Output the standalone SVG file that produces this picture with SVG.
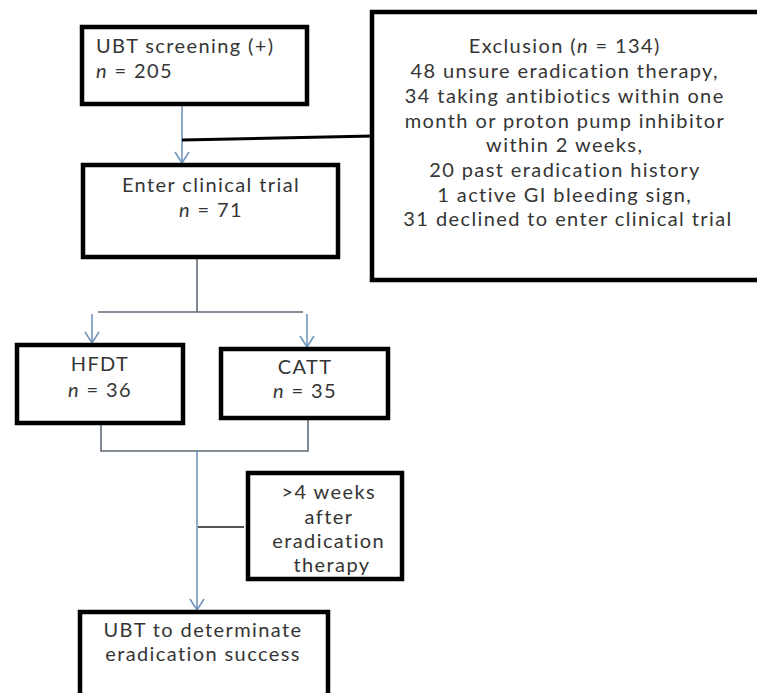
<svg xmlns="http://www.w3.org/2000/svg" width="757" height="693" viewBox="0 0 757 693">
<style>
.box{fill:#fff;stroke:#000;stroke-width:4.5}
.t{font-family:Lato,"Open Sans","Liberation Sans",sans-serif;font-size:20px;letter-spacing:1.4px;fill:#353535}
.c{text-anchor:middle}
.blue{stroke:#7196bb;stroke-width:1.6;fill:none}
.gray{stroke:#5f6b78;stroke-width:1.6;fill:none}
</style>
<rect width="757" height="693" fill="#fff"/>
<g id="connectors">
<line class="blue" x1="182" y1="105" x2="182" y2="163"/>
<polyline points="175,152 182,163 189,152" class="blue"/>
<line x1="182" y1="140" x2="373" y2="136" stroke="#000" stroke-width="3"/>
<line class="gray" x1="197" y1="257" x2="197" y2="312"/>
<line class="gray" x1="98" y1="312" x2="303" y2="312"/>
<line class="blue" x1="92" y1="314" x2="92" y2="343"/>
<polyline points="85,332 92,343 99,332" class="blue"/>
<line class="blue" x1="307" y1="314" x2="307" y2="347"/>
<polyline points="300,336 307,347 314,336" class="blue"/>
<polyline class="gray" points="101,423 101,451 308,451 308,418"/>
<line class="blue" x1="197" y1="451" x2="197" y2="610"/>
<polyline points="190,599 197,610 204,599" class="blue"/>
<line x1="198" y1="527" x2="244" y2="527" stroke="#1a1a1a" stroke-width="1.6"/>
</g>
<g id="ubt-screening">
<rect class="box" x="82" y="27" width="225" height="77"/>
<text class="t" x="96" y="53">UBT screening (+)</text>
<text class="t" x="96" y="78"><tspan font-style="italic">n</tspan> = 205</text>
</g>
<g id="exclusion">
<rect class="box" x="372" y="12" width="390" height="268"/>
<text class="t c" x="568">
<tspan x="568" y="53">Exclusion (<tspan font-style="italic">n</tspan> = 134)</tspan>
<tspan x="568" y="78">48 unsure eradication therapy,</tspan>
<tspan x="568" y="103">34 taking antibiotics within one</tspan>
<tspan x="568" y="128">month or proton pump inhibitor</tspan>
<tspan x="568" y="152">within 2 weeks,</tspan>
<tspan x="568" y="177">20 past eradication history</tspan>
<tspan x="568" y="202">1 active GI bleeding sign,</tspan>
<tspan x="568" y="226">31 declined to enter clinical trial</tspan>
</text>
</g>
<g id="enter-trial">
<rect class="box" x="83" y="165" width="255" height="92"/>
<text class="t c" x="211" y="192">Enter clinical trial</text>
<text class="t c" x="211" y="217"><tspan font-style="italic">n</tspan> = 71</text>
</g>
<g id="hfdt">
<rect class="box" x="17" y="345" width="166" height="78"/>
<text class="t c" x="100" y="371">HFDT</text>
<text class="t c" x="100" y="397"><tspan font-style="italic">n</tspan> = 36</text>
</g>
<g id="catt">
<rect class="box" x="221" y="349" width="167" height="69"/>
<text class="t c" x="305" y="374">CATT</text>
<text class="t c" x="305" y="398"><tspan font-style="italic">n</tspan> = 35</text>
</g>
<g id="weeks">
<rect class="box" x="248" y="473" width="154" height="106"/>
<text class="t c" x="332">
<tspan x="332" y="499">&gt;4 weeks</tspan>
<tspan x="332" y="524">after</tspan>
<tspan x="332" y="548">eradication</tspan>
<tspan x="332" y="572">therapy</tspan>
</text>
</g>
<g id="ubt-determinate">
<rect class="box" x="80" y="612" width="248" height="100"/>
<text class="t c" x="203" y="637">UBT to determinate</text>
<text class="t c" x="203" y="661">eradication success</text>
</g>
</svg>
